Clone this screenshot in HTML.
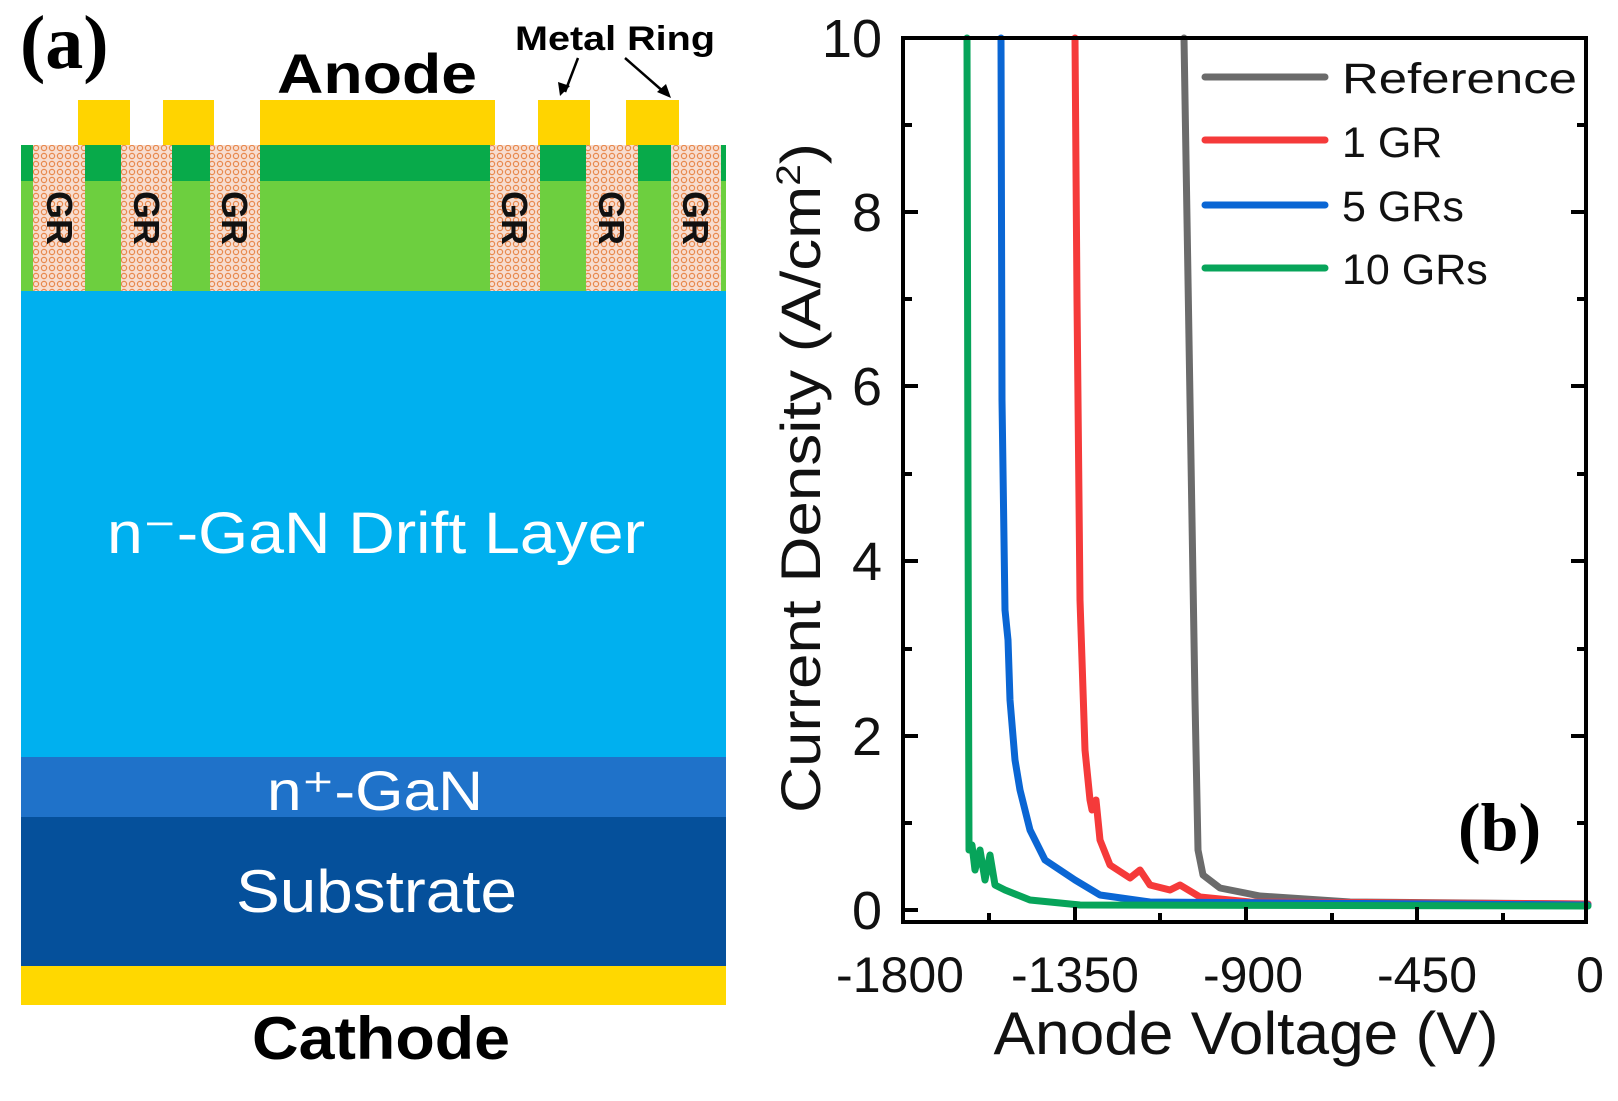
<!DOCTYPE html>
<html><head><meta charset="utf-8"><style>
html,body{margin:0;padding:0;background:#fff;}
svg{display:block;}
</style></head><body>
<svg width="1618" height="1101" viewBox="0 0 1618 1101" xmlns="http://www.w3.org/2000/svg" font-family="Liberation Sans,Arial,sans-serif">
<defs>
<pattern id="hatch" width="8" height="8" patternUnits="userSpaceOnUse">
<rect width="8" height="8" fill="#f7ddd0"/>
<circle cx="4" cy="4" r="2.6" fill="none" stroke="#e8894e" stroke-width="1.2"/>
</pattern>
</defs>
<!-- Panel a -->
<text x="20" y="68" style="font-family:'Liberation Serif',serif" font-weight="bold" font-size="76">(a)</text>
<text x="377" y="93" text-anchor="middle" font-weight="bold" font-size="56" textLength="200" lengthAdjust="spacingAndGlyphs">Anode</text>
<text x="615" y="50" text-anchor="middle" font-weight="bold" font-size="34" textLength="200" lengthAdjust="spacingAndGlyphs">Metal Ring</text>
<line x1="578" y1="58" x2="565" y2="92" stroke="#000" stroke-width="2.5"/>
<polygon points="560,96 558,82 570,86" fill="#000"/>
<line x1="625" y1="58" x2="665" y2="93" stroke="#000" stroke-width="2.5"/>
<polygon points="671,98 657,92 666,84" fill="#000"/>
<g fill="#ffd400">
<rect x="78" y="100" width="52" height="46"/>
<rect x="163" y="100" width="51" height="46"/>
<rect x="260" y="100" width="235" height="46"/>
<rect x="538" y="100" width="52" height="46"/>
<rect x="626" y="100" width="53" height="46"/>
</g>
<rect x="21" y="145" width="705" height="146" fill="#6dcf3f"/>
<rect x="21" y="145" width="705" height="36" fill="#08aa4a"/>
<g fill="url(#hatch)">
<rect x="33" y="145" width="52" height="146"/>
<rect x="121" y="145" width="51" height="146"/>
<rect x="210" y="145" width="50" height="146"/>
<rect x="490" y="145" width="50" height="146"/>
<rect x="586" y="145" width="52" height="146"/>
<rect x="671" y="145" width="50" height="146"/>
</g>
<g font-weight="bold" font-size="36" fill="#111">
<text transform="translate(47,218) rotate(90)" text-anchor="middle">GR</text>
<text transform="translate(134,218) rotate(90)" text-anchor="middle">GR</text>
<text transform="translate(222,218) rotate(90)" text-anchor="middle">GR</text>
<text transform="translate(502,218) rotate(90)" text-anchor="middle">GR</text>
<text transform="translate(599,218) rotate(90)" text-anchor="middle">GR</text>
<text transform="translate(683,218) rotate(90)" text-anchor="middle">GR</text>
</g>
<rect x="21" y="291" width="705" height="466" fill="#00b0ef"/>
<rect x="21" y="757" width="705" height="60" fill="#1f72c9"/>
<rect x="21" y="817" width="705" height="149" fill="#05509b"/>
<rect x="21" y="966" width="705" height="39" fill="#ffd800"/>
<g fill="#fff">
<text x="107" y="553" font-size="58" textLength="538" lengthAdjust="spacingAndGlyphs">n⁻-GaN Drift Layer</text>
<text x="267" y="810" font-size="56" textLength="216" lengthAdjust="spacingAndGlyphs">n⁺-GaN</text>
<text x="236" y="912" font-size="60" textLength="281" lengthAdjust="spacingAndGlyphs">Substrate</text>
</g>
<text x="252" y="1059" font-weight="bold" font-size="60" textLength="258" lengthAdjust="spacingAndGlyphs">Cathode</text>

<!-- Panel b -->
<g stroke-linejoin="round" stroke-linecap="round" fill="none" stroke-width="7">
<polyline stroke="#6b6b6b" points="1184,38 1190,400 1195,700 1198,850 1203,875 1220,888 1260,896 1350,902 1588,904"/>
<polyline stroke="#f53a3a" points="1075,38 1077,300 1080,600 1085,750 1090,800 1092,810 1096,800 1100,840 1110,865 1130,878 1140,870 1150,885 1170,890 1180,885 1200,897 1250,902 1588,904"/>
<polyline stroke="#0a66d4" points="1001,38 1002,400 1005,610 1008,640 1010,700 1015,760 1020,790 1030,830 1045,860 1060,870 1075,880 1100,895 1150,902 1588,905"/>
<polyline stroke="#07a45a" points="967,38 968,500 969,850 972,845 975,870 980,850 985,880 990,855 995,885 1005,890 1030,900 1080,905 1588,906"/>
</g>
<rect x="903" y="38" width="683" height="884" fill="none" stroke="#000" stroke-width="4"/>
<g stroke="#000" stroke-width="4">
<line x1="903" y1="910" x2="918" y2="910"/><line x1="903" y1="823" x2="912" y2="823"/>
<line x1="903" y1="736" x2="918" y2="736"/><line x1="903" y1="649" x2="912" y2="649"/>
<line x1="903" y1="561" x2="918" y2="561"/><line x1="903" y1="474" x2="912" y2="474"/>
<line x1="903" y1="386" x2="918" y2="386"/><line x1="903" y1="299" x2="912" y2="299"/>
<line x1="903" y1="212" x2="918" y2="212"/><line x1="903" y1="125" x2="912" y2="125"/>
<line x1="1586" y1="736" x2="1571" y2="736"/><line x1="1586" y1="823" x2="1577" y2="823"/>
<line x1="1586" y1="561" x2="1571" y2="561"/><line x1="1586" y1="649" x2="1577" y2="649"/>
<line x1="1586" y1="386" x2="1571" y2="386"/><line x1="1586" y1="474" x2="1577" y2="474"/>
<line x1="1586" y1="212" x2="1571" y2="212"/><line x1="1586" y1="299" x2="1577" y2="299"/>
<line x1="1586" y1="125" x2="1577" y2="125"/>
<line x1="989" y1="922" x2="989" y2="913"/><line x1="1075" y1="922" x2="1075" y2="907"/>
<line x1="1160" y1="922" x2="1160" y2="913"/><line x1="1246" y1="922" x2="1246" y2="907"/>
<line x1="1332" y1="922" x2="1332" y2="913"/><line x1="1417" y1="922" x2="1417" y2="907"/>
<line x1="1503" y1="922" x2="1503" y2="913"/>
</g>
<g font-size="54" fill="#111" text-anchor="end">
<text x="882" y="929">0</text><text x="882" y="755">2</text><text x="882" y="580">4</text>
<text x="882" y="405">6</text><text x="882" y="231">8</text><text x="882" y="57">10</text>
</g>
<g font-size="50" fill="#111" text-anchor="middle">
<text x="900" y="992">-1800</text><text x="1075" y="992">-1350</text><text x="1253" y="992">-900</text>
<text x="1427" y="992">-450</text><text x="1590" y="992">0</text>
</g>
<text x="1246" y="1054" text-anchor="middle" font-size="60" fill="#111" textLength="505" lengthAdjust="spacingAndGlyphs">Anode Voltage (V)</text>
<text transform="translate(820,478) rotate(-90)" text-anchor="middle" font-size="56" fill="#111" textLength="670" lengthAdjust="spacingAndGlyphs">Current Density (A/cm<tspan font-size="34" dy="-20">2</tspan><tspan dy="20">)</tspan></text>
<g stroke-width="7" stroke-linecap="round">
<line x1="1205" y1="77" x2="1325" y2="77" stroke="#6b6b6b"/>
<line x1="1205" y1="140" x2="1325" y2="140" stroke="#f53a3a"/>
<line x1="1205" y1="205" x2="1325" y2="205" stroke="#0a66d4"/>
<line x1="1205" y1="268" x2="1325" y2="268" stroke="#07a45a"/>
</g>
<g font-size="43" fill="#111">
<text x="1342" y="93" textLength="235" lengthAdjust="spacingAndGlyphs">Reference</text>
<text x="1342" y="157">1 GR</text>
<text x="1342" y="221">5 GRs</text>
<text x="1342" y="284">10 GRs</text>
</g>
<text x="1458" y="850" style="font-family:'Liberation Serif',serif" font-weight="bold" font-size="68">(b)</text>
</svg>
</body></html>
